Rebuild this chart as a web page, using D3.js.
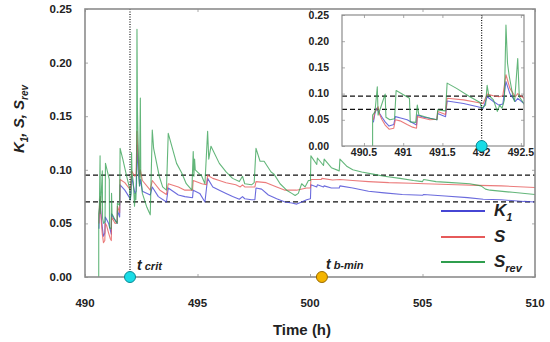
<!DOCTYPE html>
<html>
<head>
<meta charset="utf-8">
<script src="https://cdn.jsdelivr.net/npm/d3@7"></script>
<style>
  body { margin: 0; background: #fff; }
  svg { display: block; font-family: "Liberation Sans", Arial, sans-serif; }
  .tick-label { font-weight: bold; fill: #222; }
</style>
</head>
<body>
<div id="chart"></div>
<script>
// data: [time (h), value]
var k1 = [
  [490.62, 0.045], [490.64, 0.062], [490.66, 0.072], [490.70, 0.062], [490.73, 0.055],
  [490.77, 0.046], [490.82, 0.038], [490.88, 0.041], [490.90, 0.056], [490.98, 0.053],
  [491.05, 0.050], [491.17, 0.040], [491.18, 0.059], [491.26, 0.055], [491.34, 0.053],
  [491.43, 0.050], [491.44, 0.062], [491.54, 0.056], [491.56, 0.086], [491.77, 0.081],
  [491.95, 0.075], [492.02, 0.072], [492.07, 0.094], [492.15, 0.085], [492.22, 0.078],
  [492.27, 0.080], [492.31, 0.123], [492.36, 0.100], [492.43, 0.085], [492.46, 0.091],
  [492.55, 0.080], [492.90, 0.0765], [492.99, 0.084], [493.26, 0.075], [493.62, 0.070],
  [493.70, 0.083], [494.15, 0.0765], [494.44, 0.075], [494.78, 0.074], [494.81, 0.081],
  [495.10, 0.078], [495.33, 0.070], [495.45, 0.092], [495.68, 0.084], [495.97, 0.081],
  [496.27, 0.078], [496.56, 0.075], [496.86, 0.0725], [497.00, 0.075], [497.10, 0.073],
  [497.40, 0.072], [497.55, 0.072], [497.60, 0.083], [497.85, 0.082], [498.15, 0.0765],
  [498.52, 0.073], [498.89, 0.070], [499.19, 0.069], [499.41, 0.068], [499.63, 0.070],
  [499.85, 0.072], [500.02, 0.073], [500.04, 0.086], [500.30, 0.084], [500.33, 0.086],
  [500.60, 0.084], [500.63, 0.085], [500.95, 0.083], [501.30, 0.083], [501.33, 0.085],
  [501.90, 0.083], [502.60, 0.080], [503.30, 0.0785], [504.10, 0.077], [505.00, 0.0762],
  [505.05, 0.077], [506.00, 0.0755], [507.00, 0.074], [507.70, 0.0725], [508.50, 0.072],
  [509.50, 0.0705], [510.00, 0.070]
];

var s = [
  [490.62, 0.050], [490.64, 0.066], [490.66, 0.069], [490.68, 0.075], [490.70, 0.060],
  [490.73, 0.050], [490.77, 0.040], [490.82, 0.032], [490.88, 0.034], [490.90, 0.050],
  [490.96, 0.048], [491.05, 0.041], [491.12, 0.036], [491.17, 0.034], [491.18, 0.056],
  [491.26, 0.053], [491.34, 0.050], [491.43, 0.051], [491.44, 0.066], [491.54, 0.060],
  [491.56, 0.091], [491.77, 0.088], [491.95, 0.083], [492.02, 0.081], [492.07, 0.099],
  [492.15, 0.096], [492.22, 0.094], [492.27, 0.096], [492.31, 0.136], [492.36, 0.110],
  [492.43, 0.094], [492.46, 0.100], [492.55, 0.090], [492.90, 0.081], [492.99, 0.090],
  [493.33, 0.081], [493.62, 0.077], [493.70, 0.087], [494.15, 0.084], [494.44, 0.081],
  [494.78, 0.081], [494.81, 0.090], [495.19, 0.087], [495.40, 0.086], [495.45, 0.095],
  [495.68, 0.092], [495.97, 0.090], [496.27, 0.088], [496.70, 0.086], [496.90, 0.084],
  [497.00, 0.086], [497.10, 0.084], [497.55, 0.084], [497.60, 0.089], [498.05, 0.088],
  [498.52, 0.084], [498.89, 0.081], [499.40, 0.081], [499.85, 0.083], [500.02, 0.083],
  [500.04, 0.091], [500.50, 0.091], [500.53, 0.092], [501.00, 0.0905], [501.33, 0.091],
  [501.90, 0.090], [502.60, 0.089], [503.50, 0.088], [504.50, 0.0875], [505.10, 0.087],
  [506.50, 0.086], [507.50, 0.0855], [508.50, 0.085], [510.00, 0.0835]
];

var srev = [
  [490.61, 0.000], [490.61, 0.059], [490.64, 0.065], [490.67, 0.113], [490.68, 0.059],
  [490.71, 0.072], [490.77, 0.099], [490.78, 0.055], [490.83, 0.050], [490.89, 0.052],
  [490.91, 0.106], [491.08, 0.091], [491.09, 0.046], [491.16, 0.045], [491.18, 0.078],
  [491.20, 0.059], [491.34, 0.053], [491.43, 0.050], [491.44, 0.069], [491.54, 0.067],
  [491.56, 0.120], [491.68, 0.110], [491.85, 0.094], [491.98, 0.083], [492.00, 0.072],
  [492.05, 0.078], [492.07, 0.116], [492.09, 0.097], [492.15, 0.088], [492.20, 0.066],
  [492.23, 0.078], [492.26, 0.072], [492.29, 0.088], [492.31, 0.231], [492.33, 0.158],
  [492.35, 0.135], [492.40, 0.094], [492.42, 0.085], [492.46, 0.167], [492.48, 0.094],
  [492.55, 0.078], [492.75, 0.065], [492.90, 0.058], [492.99, 0.137], [493.05, 0.120],
  [493.30, 0.094], [493.45, 0.084], [493.62, 0.081], [493.70, 0.134], [494.07, 0.106],
  [494.30, 0.097], [494.50, 0.087], [494.75, 0.081], [494.81, 0.117], [494.84, 0.094],
  [494.87, 0.110], [494.90, 0.100], [495.19, 0.094], [495.33, 0.087], [495.45, 0.136],
  [495.50, 0.110], [495.60, 0.122], [495.97, 0.106], [496.27, 0.098], [496.56, 0.092],
  [496.86, 0.089], [497.00, 0.094], [497.10, 0.087], [497.40, 0.086], [497.52, 0.088],
  [497.60, 0.120], [497.78, 0.108], [497.96, 0.108], [498.27, 0.098], [498.40, 0.096],
  [498.67, 0.087], [498.96, 0.081], [499.19, 0.078], [499.34, 0.076], [499.48, 0.078],
  [499.63, 0.087], [499.78, 0.084], [499.93, 0.090], [500.02, 0.090], [500.04, 0.113],
  [500.30, 0.105], [500.33, 0.111], [500.60, 0.104], [500.63, 0.110], [500.95, 0.102],
  [501.30, 0.099], [501.33, 0.110], [501.65, 0.103], [501.90, 0.100], [502.30, 0.098],
  [502.80, 0.096], [503.30, 0.094], [504.00, 0.092], [504.60, 0.090], [505.00, 0.089],
  [505.05, 0.091], [505.60, 0.089], [506.30, 0.088], [507.10, 0.087], [507.60, 0.085],
  [507.80, 0.082], [508.00, 0.081], [509.00, 0.079], [510.00, 0.077]
];

var xTicks = [490, 495, 500, 505, 510];
var yTicks = [0, 0.05, 0.10, 0.15, 0.20, 0.25];
var insetXTicks = [490.5, 491, 491.5, 492, 492.5];
var thresholds = [0.095, 0.07];
var tCrit = 492.0;
var tBmin = 500.53;

var seriesNames = ["K1", "S", "Srev"];
var seriesData = [k1, s, srev];
var colors = ["#4646d4", "#e65a5a", "#2f9e4e"];

var svgWidth = 550, svgHeight = 342;
var main = { left: 85, right: 535, top: 9, bottom: 277 };
var inset = { left: 342, right: 524, top: 15, bottom: 146 };

var svg = d3.select("#chart").append("svg")
  .attr("width", svgWidth)
  .attr("height", svgHeight);

var x = d3.scaleLinear().domain([490, 510]).range([main.left, main.right]);
var y = d3.scaleLinear().domain([0, 0.25]).range([main.bottom, main.top]);

var xi = d3.scaleLinear().domain([490.22, 492.54]).range([inset.left, inset.right]);
var yi = d3.scaleLinear().domain([0, 0.25]).range([inset.bottom, inset.top]);

var defs = svg.append("defs");
defs.append("clipPath").attr("id", "clipMain").append("rect")
  .attr("x", main.left).attr("y", main.top)
  .attr("width", main.right - main.left).attr("height", main.bottom - main.top);
defs.append("clipPath").attr("id", "clipInset").append("rect")
  .attr("x", inset.left).attr("y", inset.top)
  .attr("width", inset.right - inset.left).attr("height", inset.bottom - inset.top);

// axes (ticks inside, labels drawn separately)
function drawAxes(g, xs, ys, xt, box, fs, xFmt, xLabelY) {
  g.append("g").attr("transform", "translate(0," + box.bottom + ")")
    .call(d3.axisBottom(xs).tickValues(xt).tickSize(-3).tickFormat(""));
  g.append("g").attr("transform", "translate(0," + box.top + ")")
    .call(d3.axisTop(xs).tickValues(xt).tickSize(-3).tickFormat(""));
  g.append("g").attr("transform", "translate(" + box.left + ",0)")
    .call(d3.axisLeft(ys).tickValues(yTicks).tickSize(-3).tickFormat(""));
  g.append("g").attr("transform", "translate(" + box.right + ",0)")
    .call(d3.axisRight(ys).tickValues(yTicks).tickSize(-3).tickFormat(""));
  g.selectAll(".domain").remove();
  g.selectAll(".tick line").attr("stroke", "#aaa");

  g.selectAll(".ylab").data(yTicks).enter().append("text")
    .attr("class", "tick-label")
    .attr("x", box.left - (fs > 11 ? 13 : 13))
    .attr("y", function(d) { return ys(d); })
    .attr("dy", "0.35em")
    .attr("text-anchor", "end")
    .style("font-size", fs + "px")
    .text(d3.format(".2f"));

  g.selectAll(".xlab").data(xt).enter().append("text")
    .attr("class", "tick-label")
    .attr("x", function(d) { return xs(d); })
    .attr("y", xLabelY)
    .attr("text-anchor", "middle")
    .style("font-size", fs + "px")
    .text(xFmt);
}

var mainG = svg.append("g");
drawAxes(mainG, x, y, xTicks, main, 11.5, function(d) { return d; }, 307);

function drawLayer(g, xs, ys, box, clipId, dotX) {
  var line = d3.line().x(function(d) { return xs(d[0]); }).y(function(d) { return ys(d[1]); });
  var plot = g.append("g").attr("clip-path", "url(#" + clipId + ")");

  thresholds.forEach(function(v) {
    plot.append("line")
      .attr("x1", box.left).attr("x2", box.right)
      .attr("y1", ys(v)).attr("y2", ys(v))
      .attr("stroke", "#111").attr("stroke-width", 1.2)
      .attr("stroke-dasharray", "5,3");
  });

  plot.selectAll(".series").data(seriesData).enter().append("path")
    .attr("fill", "none")
    .attr("stroke", function(d, i) { return colors[i]; })
    .attr("stroke-opacity", function(d, i) { return i == 2 ? 0.75 : 0.8; })
    .attr("stroke-width", 1.1)
    .attr("stroke-linejoin", "round")
    .attr("d", line);

  g.append("line")
    .attr("x1", xs(dotX)).attr("x2", xs(dotX))
    .attr("y1", box.top).attr("y2", box.bottom)
    .attr("stroke", "#111").attr("stroke-width", 1.2)
    .attr("stroke-dasharray", "1,1.5");

  g.append("rect")
    .attr("x", box.left).attr("y", box.top)
    .attr("width", box.right - box.left).attr("height", box.bottom - box.top)
    .attr("fill", "none").attr("stroke", "#8c8c8c")
    .attr("stroke-width", clipId == "clipMain" ? 1.6 : 1.2);
}

drawLayer(mainG, x, y, main, "clipMain", tCrit);

// markers on the time axis
mainG.append("circle")
  .attr("cx", x(tCrit)).attr("cy", main.bottom).attr("r", 5.5)
  .attr("fill", "#19dce6").attr("stroke", "#0a8a96").attr("stroke-width", 1);
mainG.append("circle")
  .attr("cx", x(tBmin)).attr("cy", main.bottom).attr("r", 5.5)
  .attr("fill", "#f4b400").attr("stroke", "#9a6a00").attr("stroke-width", 1);

function markLabel(px, py, sub) {
  var t = mainG.append("text")
    .attr("x", px).attr("y", py)
    .style("font-weight", "bold").style("font-style", "italic").style("fill", "#222");
  t.append("tspan").style("font-size", "14px").text("t");
  t.append("tspan").style("font-size", "11px").text(" " + sub);
}
markLabel(x(tCrit) + 7, 270, "crit");
markLabel(x(tBmin) + 4, 269, "b-min");

// inset
var insetG = svg.append("g");
insetG.append("rect")
  .attr("x", inset.left).attr("y", inset.top)
  .attr("width", inset.right - inset.left).attr("height", inset.bottom - inset.top)
  .attr("fill", "#fff");
drawAxes(insetG, xi, yi, insetXTicks, inset, 10.5, function(d) { return d; }, 156);
drawLayer(insetG, xi, yi, inset, "clipInset", tCrit);
insetG.append("circle")
  .attr("cx", xi(tCrit)).attr("cy", inset.bottom).attr("r", 5.5)
  .attr("fill", "#19dce6").attr("stroke", "#0a8a96").attr("stroke-width", 1);

// axis titles
svg.append("text")
  .attr("x", 302).attr("y", 335)
  .attr("text-anchor", "middle")
  .style("font-size", "15px").style("font-weight", "bold").style("fill", "#222")
  .text("Time (h)");

var yTitle = svg.append("text")
  .attr("transform", "translate(24,119) rotate(-90)")
  .attr("text-anchor", "middle")
  .style("font-size", "15px").style("font-weight", "bold").style("font-style", "italic")
  .style("fill", "#222");
yTitle.append("tspan").text("K");
yTitle.append("tspan").attr("dy", 4).style("font-size", "10px").text("1");
yTitle.append("tspan").attr("dy", -4).text(", S, S");
yTitle.append("tspan").attr("dy", 4).style("font-size", "10px").text("rev");

// legend
var legendY = [211, 237, 262];
var legend = svg.append("g");
legend.selectAll("line").data(seriesNames).enter().append("line")
  .attr("x1", 441).attr("x2", 485)
  .attr("y1", function(d, i) { return legendY[i]; })
  .attr("y2", function(d, i) { return legendY[i]; })
  .attr("stroke", function(d, i) { return colors[i]; })
  .attr("stroke-width", 2.2);

legend.selectAll("text").data(seriesNames).enter().append("text")
  .attr("x", 494)
  .attr("y", function(d, i) { return legendY[i] + 5; })
  .style("font-size", "17px").style("font-weight", "bold").style("font-style", "italic")
  .style("fill", "#222")
  .each(function(d) {
    var t = d3.select(this);
    t.append("tspan").text(d.charAt(0));
    if (d.length > 1) {
      t.append("tspan").attr("dy", 5).style("font-size", "11px").text(d.slice(1));
    }
  });
</script>
</body>
</html>
